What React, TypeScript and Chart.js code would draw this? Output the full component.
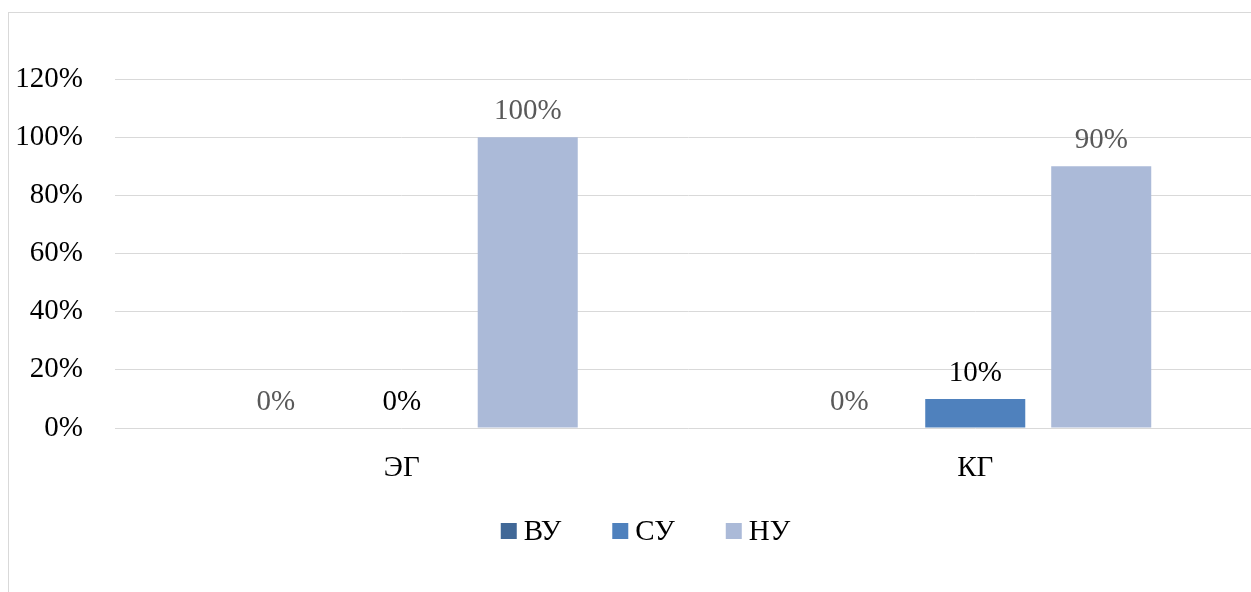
import React, { useEffect, useRef } from "react";
import { Chart, registerables } from "chart.js";

Chart.register(...registerables);

const categories = ["ЭГ", "КГ"];
const seriesNames = ["ВУ", "СУ", "НУ"];
const vuValues = [0, 0];
const suValues = [0, 10];
const nuValues = [100, 90];
const seriesColors = ["#416897", "#4f81bd", "#abbad8"];
const labelColors = ["#595959", "#000000", "#595959"];
const yTicks = [0, 20, 40, 60, 80, 100, 120];

const FONT = "'Liberation Serif', 'Times New Roman', serif";
const FS = 29;

const dataLabelPlugin = {
  id: "dataLabels",
  afterDatasetsDraw(chart: any) {
    const ctx = chart.ctx;
    ctx.save();
    ctx.font = `${FS}px ${FONT}`;
    ctx.textAlign = "center";
    ctx.textBaseline = "alphabetic";
    chart.data.datasets.forEach((ds: any, i: number) => {
      const meta = chart.getDatasetMeta(i);
      meta.data.forEach((el: any, j: number) => {
        ctx.fillStyle = labelColors[i];
        ctx.fillText(`${ds.data[j]}%`, el.x, el.y - 18);
      });
    });
    ctx.restore();
  },
};

const legendPlugin = {
  id: "customLegend",
  afterDraw(chart: any) {
    const ctx = chart.ctx;
    ctx.save();
    ctx.font = `${FS}px ${FONT}`;
    ctx.textBaseline = "middle";
    ctx.textAlign = "left";
    const box = 16;
    const textGap = 7;
    const itemGap = 51;
    const widths = seriesNames.map((n) => box + textGap + ctx.measureText(n).width);
    const total = widths.reduce((a, b) => a + b, 0) + itemGap * (seriesNames.length - 1);
    let x = chart.width / 2 - total / 2;
    const cy = 518;
    seriesNames.forEach((n, i) => {
      ctx.fillStyle = seriesColors[i];
      ctx.fillRect(x, cy - box / 2, box, box);
      ctx.fillStyle = "#000000";
      ctx.fillText(n, x + box + textGap, cy + 1);
      x += widths[i] + itemGap;
    });
    ctx.restore();
  },
};

export default function App() {
  const ref = useRef<HTMLCanvasElement>(null);
  useEffect(() => {
    if (!ref.current) return;
    const chart = new Chart(ref.current, {
      type: "bar",
      data: {
        labels: categories,
        datasets: [vuValues, suValues, nuValues].map((d, i) => ({
          label: seriesNames[i],
          data: d,
          backgroundColor: seriesColors[i],
          categoryPercentage: 0.659,
          barPercentage: 0.794,
        })),
      },
      options: {
        animation: false,
        responsive: false,
        devicePixelRatio: 1,
        layout: { padding: { left: 6, top: 66, right: 20, bottom: 100 } },
        plugins: { legend: { display: false }, tooltip: { enabled: false } },
        scales: {
          x: {
            grid: { display: false },
            border: { display: false },
            ticks: { color: "#000", font: { family: FONT, size: FS }, padding: 15 },
            afterFit: (s: any) => {
              s.height = 64;
            },
          },
          y: {
            min: 0,
            max: 120,
            afterBuildTicks: (s: any) => {
              s.ticks = yTicks.map((v) => ({ value: v }));
            },
            grid: { color: "#d9d9d9", lineWidth: 1, drawTicks: false },
            border: { display: false },
            ticks: {
              color: "#000",
              font: { family: FONT, size: FS },
              padding: 32,
              callback: (v: any) => `${v}%`,
            },
            afterFit: (s: any) => {
              s.width = 100;
            },
          },
        },
      },
      plugins: [dataLabelPlugin, legendPlugin],
    });
    return () => chart.destroy();
  }, []);
  return (
    <div
      style={{
        position: "fixed",
        left: 0,
        top: 0,
        width: 1251,
        height: 592,
        overflow: "hidden",
        background: "#fff",
      }}
    >
      <div
        style={{
          position: "absolute",
          left: 8,
          top: 12,
          width: 1400,
          height: 700,
          borderLeft: "1px solid #d9d9d9",
          borderTop: "1px solid #d9d9d9",
        }}
      >
        <canvas ref={ref} width={1273} height={579} style={{ display: "block" }} />
      </div>
    </div>
  );
}
